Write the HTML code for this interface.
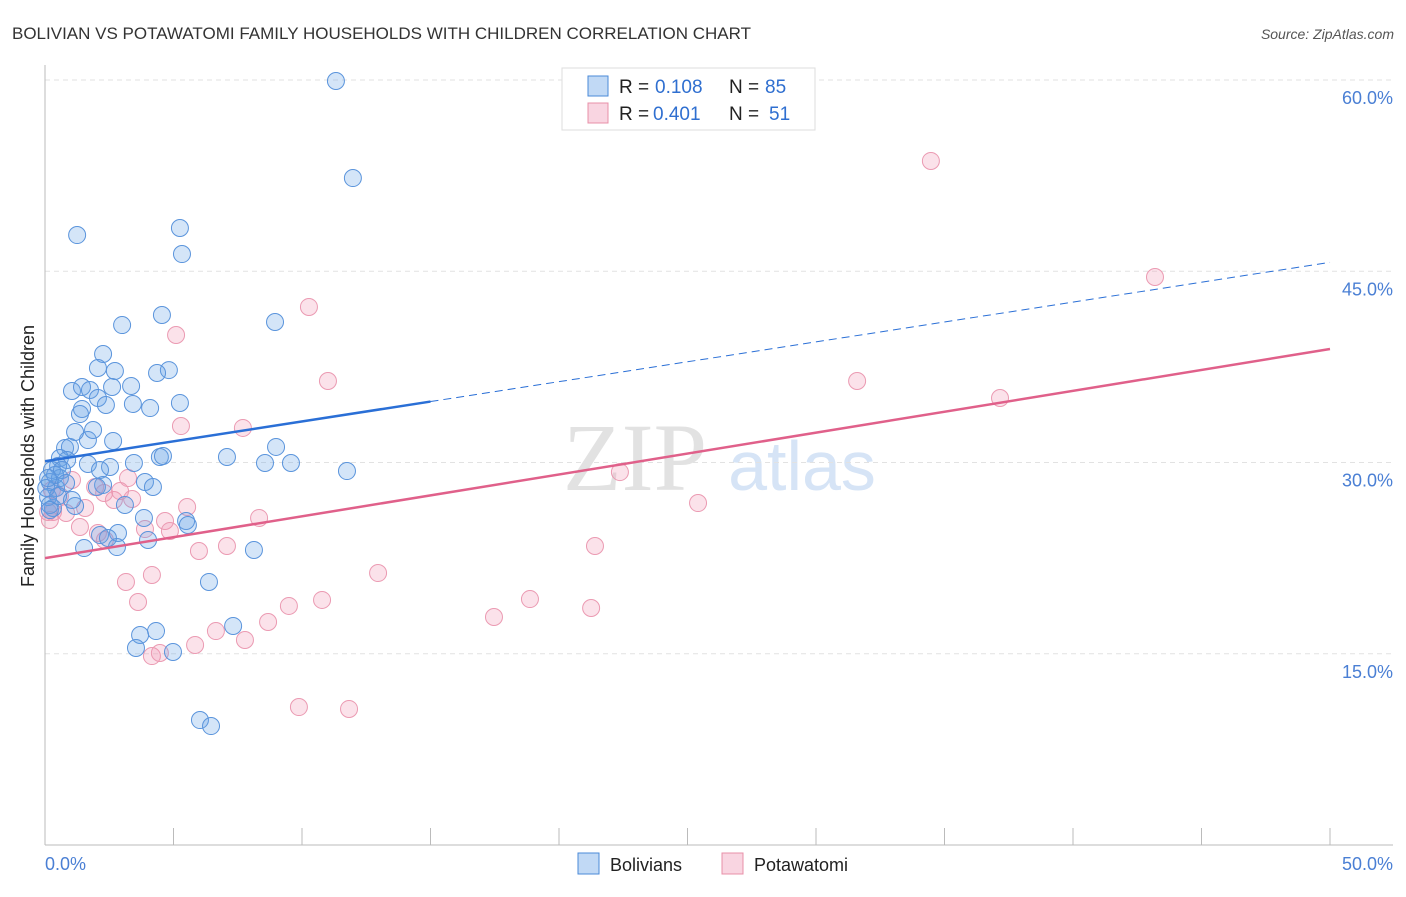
<!DOCTYPE html>
<html><head><meta charset="utf-8"><style>
body{margin:0;background:#fff;font-family:"Liberation Sans",sans-serif;}
svg text{font-family:"Liberation Sans",sans-serif;}
</style></head><body>
<svg id="chart" width="1406" height="892">
<text x="12" y="39" font-size="17" fill="#333">BOLIVIAN VS POTAWATOMI FAMILY HOUSEHOLDS WITH CHILDREN CORRELATION CHART</text>
<text x="1394" y="39" font-size="14" fill="#555" font-style="italic" text-anchor="end">Source: ZipAtlas.com</text>
<text x="635" y="490" font-size="96" fill="#e2e2e2" text-anchor="middle" style="font-family:'Liberation Serif',serif">ZIP</text>
<text x="802" y="490" font-size="70" fill="#d6e4f6" text-anchor="middle">atlas</text>
<g id="grid"></g>
<g id="axes"></g>
<g id="marks"></g>
<text transform="translate(34,456) rotate(-90)" font-size="18" fill="#222" text-anchor="middle">Family Households with Children</text>
<text x="45" y="870" font-size="18" fill="#4a7fd4">0.0%</text>
<text x="1393" y="870" font-size="18" fill="#4a7fd4" text-anchor="end">50.0%</text>
<g>
<rect x="562" y="68" width="253" height="62" fill="#fff" stroke="#ddd"/>
<rect x="588" y="76" width="20" height="20" fill="rgba(100,160,230,0.4)" stroke="#4a8ad8"/>
<rect x="588" y="103" width="20" height="20" fill="rgba(240,150,180,0.4)" stroke="#e890a8"/>
<text x="619" y="93" font-size="19" fill="#222">R =</text>
<text x="655" y="93" font-size="19" fill="#2f6fd0">0.108</text>
<text x="729" y="93" font-size="19" fill="#222">N =</text>
<text x="765" y="93" font-size="19" fill="#2f6fd0">85</text>
<text x="619" y="120" font-size="19" fill="#222">R =</text>
<text x="653" y="120" font-size="19" fill="#2f6fd0">0.401</text>
<text x="729" y="120" font-size="19" fill="#222">N =</text>
<text x="769" y="120" font-size="19" fill="#2f6fd0">51</text>
</g>
<g>
<rect x="578" y="853" width="21" height="21" fill="rgba(100,160,230,0.4)" stroke="#4a8ad8"/>
<text x="610" y="871" font-size="18" fill="#222">Bolivians</text>
<rect x="722" y="853" width="21" height="21" fill="rgba(240,150,180,0.4)" stroke="#e890a8"/>
<text x="754" y="871" font-size="18" fill="#222">Potawatomi</text>
</g>
</svg>
<script>
const yTicks=[15,30,45,60];
const yTickLabels=["15.0%","30.0%","45.0%","60.0%"];
const xTicks=[0,5,10,15,20,25,30,35,40,45,50];
const bolX=[11.32,11.98,1.25,5.25,5.33,4.55,3.00,8.95,2.26,4.82,4.36,2.06,2.72,3.35,2.61,1.05,1.44,1.75,2.06,2.37,3.42,4.09,5.25,1.44,1.36,2.65,1.67,1.17,1.87,0.78,0.97,0.58,0.86,0.51,0.27,0.19,0.43,0.58,1.67,2.53,3.46,4.47,4.59,2.14,2.26,2.02,3.89,4.20,7.08,8.99,8.56,9.57,11.75,1.17,3.11,3.85,5.49,5.56,2.84,4.01,2.80,1.52,8.13,6.38,4.32,3.70,3.54,4.98,7.32,6.03,6.46,0.31,0.12,0.19,0.39,0.66,0.05,2.14,2.45,0.51,0.82,1.05,0.12,0.19];
const bolY=[59.92,52.31,47.84,48.39,46.35,41.57,40.78,41.02,38.51,37.25,37.02,37.41,37.18,36.00,35.92,35.61,35.92,35.69,35.06,34.51,34.59,34.27,34.67,34.20,33.80,31.69,31.76,32.39,32.55,31.14,31.22,30.35,30.20,29.73,29.41,28.47,28.00,28.78,29.88,29.65,29.96,30.43,30.51,29.41,28.24,28.08,28.47,28.08,30.43,31.22,29.96,29.96,29.33,26.59,26.67,25.65,25.41,25.10,24.47,23.92,23.37,23.29,23.14,20.63,16.78,16.47,15.45,15.14,17.18,9.80,9.33,26.43,27.29,26.67,29.02,29.41,28.0,24.31,24.08,27.37,28.39,27.06,28.78,26.27];
const potX=[34.47,43.19,10.27,5.10,11.01,31.60,37.16,7.70,5.29,22.37,25.41,3.23,1.95,1.05,0.27,0.58,0.31,0.82,1.56,2.68,3.39,2.92,2.30,1.36,2.06,2.33,3.89,4.67,4.86,5.53,8.33,5.99,7.08,21.40,3.15,4.16,12.96,3.62,9.49,10.78,18.87,21.25,17.47,8.68,6.65,7.78,5.84,4.16,4.47,9.88,11.83,0.12,0.19];
const potY=[53.65,44.55,42.20,40.00,36.39,36.39,35.06,32.71,32.86,29.25,26.82,28.78,28.08,28.63,27.84,27.37,26.12,26.04,26.43,27.06,27.14,27.76,27.61,24.94,24.47,23.92,24.78,25.41,24.63,26.51,25.65,23.06,23.45,23.45,20.63,21.18,21.33,19.06,18.75,19.22,19.29,18.59,17.88,17.49,16.78,16.08,15.69,14.82,15.06,10.82,10.67,26.12,25.49];
const bolTrend=[30.1,45.7];
const potTrend=[22.5,38.9];
const NS="http://www.w3.org/2000/svg";
const sx=v=>45+v*25.7, sy=v=>845-v*12.75;
function mk(tag,attrs,parent){const e=document.createElementNS(NS,tag);for(const k in attrs)e.setAttribute(k,attrs[k]);document.getElementById(parent).appendChild(e);return e;}
yTicks.forEach((t,i)=>{
 const l=mk('line',{x1:45,x2:1393,y1:sy(t),y2:sy(t),stroke:'#e2e2e2','stroke-dasharray':'5,4'},'grid');
 
 
 const tx=mk('text',{x:1393,y:sy(t)+24,'font-size':18,fill:'#4a7fd4','text-anchor':'end'},'grid');
 tx.textContent=yTickLabels[i];
 
 
});
const ax=mk('line',{x1:45,x2:1393,y1:845,y2:845,stroke:'#bbb'},'axes');


const ay=mk('line',{x1:45,x2:45,y1:65,y2:845,stroke:'#bbb'},'axes');


xTicks.forEach(t=>{
 const l=mk('line',{x1:sx(t),x2:sx(t),y1:828,y2:845,stroke:'#bbb'},'axes');
 
 
});
function pts(xs,ys,fill,stroke,name){
 xs.forEach((x,i)=>{
  const c=mk('circle',{cx:sx(x),cy:sy(ys[i]),r:8.5,fill:fill,stroke:stroke,'stroke-width':1},'marks');
  
  
 });
}
pts(potX,potY,'rgba(240,150,180,0.28)','#eb9ab2','potawatomi-point');
pts(bolX,bolY,'rgba(100,160,230,0.28)','#5a94dc','bolivian-point');
const bAt=x=>bolTrend[0]+(bolTrend[1]-bolTrend[0])*x/50;
const pAt=x=>potTrend[0]+(potTrend[1]-potTrend[0])*x/50;
const b1=mk('line',{x1:sx(0),y1:sy(bAt(0)),x2:sx(15),y2:sy(bAt(15)),stroke:'#2a6fd6','stroke-width':2.5},'marks');


const b2=mk('line',{x1:sx(15),y1:sy(bAt(15)),x2:sx(50),y2:sy(bAt(50)),stroke:'#2a6fd6','stroke-width':1,'stroke-dasharray':'8,5'},'marks');


const p1=mk('line',{x1:sx(0),y1:sy(pAt(0)),x2:sx(50),y2:sy(pAt(50)),stroke:'#e0608a','stroke-width':2.5},'marks');


</script>
</body></html>
